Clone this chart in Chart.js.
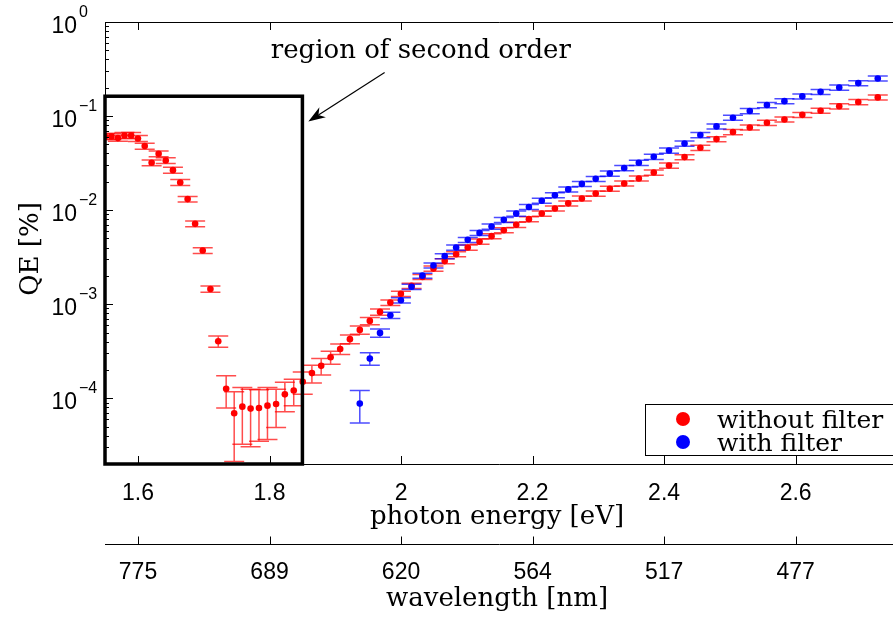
<!DOCTYPE html>
<html>
<head>
<meta charset="utf-8">
<title>QE vs photon energy</title>
<script src="https://cdn.jsdelivr.net/npm/chart.js@4.4.1/dist/chart.umd.min.js"></script>
<style>
  html, body { margin: 0; padding: 0; background: #fff; }
  #chart { display: block; }
</style>
</head>
<body>
<canvas id="chart" width="893" height="619"></canvas>
<script>
const HC = 1239.84; // eV * nm

// without filter (red)
const redWavelengths = [800, 795, 790, 785, 780, 775, 770, 765, 760, 755, 750, 745, 740, 735, 730,
  725, 720, 715, 710, 705, 700, 695, 690, 685, 680, 675, 670, 665, 660, 655, 650, 645, 640,
  635, 630, 625, 620, 615, 610, 605, 600, 595, 590, 585, 580, 575, 570, 565, 560, 555, 550,
  545, 540, 535, 530, 525, 520, 515, 510, 505, 500, 495, 490, 485, 480, 475, 470, 465, 460, 455];
const redQE = [0.0607, 0.0607, 0.0583, 0.0622, 0.0622, 0.0578, 0.048, 0.0319, 0.0397, 0.0337,
  0.0266, 0.0197, 0.0131, 0.00715, 0.00372, 0.00145, 4.04e-4, 1.26e-4, 6.92e-5, 8.14e-5,
  7.76e-5, 7.88e-5, 8.34e-5, 8.69e-5, 1.10e-4, 1.21e-4, 1.50e-4, 1.85e-4, 2.21e-4, 2.73e-4,
  3.34e-4, 4.25e-4, 5.33e-4, 6.64e-4, 8.28e-4, 1.04e-3, 1.29e-3, 1.57e-3, 1.95e-3, 2.39e-3,
  2.87e-3, 3.4e-3, 4.0e-3, 4.63e-3, 5.29e-3, 6.12e-3, 6.98e-3, 8.02e-3, 9.2e-3, 0.0104,
  0.0118, 0.0133, 0.0150, 0.0169, 0.0192, 0.0217, 0.0251, 0.0298, 0.0366, 0.046,
  0.0569, 0.0676, 0.0757, 0.0849, 0.092, 0.103, 0.114, 0.127, 0.141, 0.158];
const redErr = [0.0045, 0.0045, 0.0043, 0.0045, 0.0045, 0.0042, 0.0035, 0.0023, 0.0028, 0.0024,
  0.0019, 0.0014, 0.0009, 0.0005, 0.00027, 0.00011, 5.5e-5, 4.7e-5, 4.8e-5, 4.9e-5,
  4.7e-5, 4.4e-5, 4.7e-5, 3.8e-5, 3.8e-5, 3.8e-5, 4.0e-5, 4.0e-5, 4.4e-5, 4.3e-5,
  4.3e-5, 4.5e-5, 5.5e-5, 5.8e-5, 6.3e-5, 7e-5, 8.5e-5, 1e-4, 1.2e-4, 1.5e-4,
  1.8e-4, 2.1e-4, 2.5e-4, 2.9e-4, 3.3e-4, 3.8e-4, 4.3e-4, 5e-4, 5.7e-4, 6.4e-4,
  7.3e-4, 8.2e-4, 9.3e-4, 1.05e-3, 1.2e-3, 1.35e-3, 1.55e-3, 1.85e-3, 2.3e-3, 2.9e-3,
  3.5e-3, 4.2e-3, 4.7e-3, 5.3e-3, 5.7e-3, 6.4e-3, 7.1e-3, 7.9e-3, 8.7e-3, 9.8e-3];

// with filter (blue)
const blueWavelengths = [640, 635, 630, 625, 620, 615, 610, 605, 600, 595, 590, 585, 580, 575,
  570, 565, 560, 555, 550, 545, 540, 535, 530, 525, 520, 515, 510, 505, 500, 495, 490, 485,
  480, 475, 470, 465, 460, 455];
const blueQE = [8.77e-5, 2.64e-4, 4.95e-4, 7.64e-4, 1.10e-3, 1.53e-3, 2.01e-3, 2.58e-3, 3.24e-3,
  4.0e-3, 4.83e-3, 5.73e-3, 6.7e-3, 7.88e-3, 9.2e-3, 0.0108, 0.0126, 0.0144, 0.0166, 0.019,
  0.0215, 0.0245, 0.028, 0.0319, 0.0369, 0.043, 0.0511, 0.0628, 0.0776, 0.096, 0.113, 0.131,
  0.144, 0.162, 0.181, 0.201, 0.224, 0.251];
const blueErr = [3.3e-5, 4e-5, 4.9e-5, 5.8e-5, 7e-5, 9.5e-5, 1.25e-4, 1.6e-4, 2e-4,
  2.5e-4, 3e-4, 3.6e-4, 4.2e-4, 4.9e-4, 5.7e-4, 6.7e-4, 7.8e-4, 9e-4, 1.03e-3, 1.18e-3,
  1.33e-3, 1.52e-3, 1.74e-3, 2e-3, 2.3e-3, 2.7e-3, 3.2e-3, 3.9e-3, 4.8e-3, 6e-3, 7e-3, 8.1e-3,
  8.9e-3, 0.01, 0.011, 0.0125, 0.014, 0.0155];

const energyTicks = [1.6, 1.8, 2, 2.2, 2.4, 2.6];
const wavelengthLabels = ['775', '689', '620', '564', '517', '477'];
const decadeTicks = [1e-4, 1e-3, 1e-2, 1e-1, 1];
const decadeExponents = ['\u22124', '\u22123', '\u22122', '\u22121', '0'];

const E_MIN = HC / 800;
const E_MAX = 2.742;
const QE_MIN = 2e-5;
const QE_MAX = 1;

// "region of second order" frame and its note
const regionEMax = 1.85;
const regionQEMax = 0.1625;
const noteText = 'region of second order';
const notePos = { x: 2.03, y: 0.417 };
const arrowFrom = { x: 1.975, y: 0.291 };
const arrowTo = { x: 1.859, y: 0.0877 };

const SANS = "'Liberation Sans', Arial, sans-serif";
const SERIF = "'DejaVu Serif', serif";

const toPoints = (wl, qe, err) => wl.map((w, i) => ({ x: HC / w, y: qe[i], err: err[i] }));

const errorBars = {
  id: 'errorBars',
  beforeDatasetsDraw(chart) {
    const { ctx, chartArea } = chart;
    const xs = chart.scales.x, ys = chart.scales.y;
    ctx.save();
    ctx.beginPath();
    ctx.rect(chartArea.left, chartArea.top, chartArea.right - chartArea.left, chartArea.bottom - chartArea.top);
    ctx.clip();
    // red first, blue on top
    [...chart.data.datasets].sort((a, b) => b.order - a.order).forEach(ds => {
      ctx.strokeStyle = ds.errorColor;
      ctx.lineWidth = 1.5;
      ds.data.forEach(d => {
        const px = xs.getPixelForValue(d.x);
        const yHi = ys.getPixelForValue(d.y + d.err);
        const lo = d.y - d.err;
        const yLo = lo > 0 ? ys.getPixelForValue(lo) : chartArea.bottom + 20;
        ctx.beginPath();
        ctx.moveTo(px, yHi); ctx.lineTo(px, yLo);
        ctx.moveTo(px - 10, yHi); ctx.lineTo(px + 10, yHi);
        ctx.moveTo(px - 10, yLo); ctx.lineTo(px + 10, yLo);
        ctx.stroke();
      });
    });
    ctx.restore();
  }
};

const frame = {
  id: 'frame',
  afterDraw(chart) {
    const { ctx, chartArea } = chart;
    const xs = chart.scales.x, ys = chart.scales.y, x2 = chart.scales.x2;
    const { left, right, top, bottom } = chartArea;
    ctx.save();
    ctx.strokeStyle = '#000';
    ctx.fillStyle = '#000';
    ctx.lineWidth = 1;

    // axes box (left, top, bottom)
    ctx.beginPath();
    ctx.moveTo(right + 5, top + 0.5); ctx.lineTo(left + 0.5, top + 0.5);
    ctx.lineTo(left + 0.5, bottom + 0.5); ctx.lineTo(right + 5, bottom + 0.5);
    ctx.stroke();

    // x ticks, inward at bottom and top
    ctx.beginPath();
    energyTicks.forEach(v => {
      const px = Math.round(xs.getPixelForValue(v)) + 0.5;
      ctx.moveTo(px, bottom); ctx.lineTo(px, bottom - 8);
      ctx.moveTo(px, top); ctx.lineTo(px, top + 8);
    });
    // y ticks (major + minor), inward
    for (let d = -5; d <= 0; d++) {
      for (let m = 1; m <= 9; m++) {
        const v = m * Math.pow(10, d);
        if (v < QE_MIN || v > QE_MAX) continue;
        const py = Math.round(ys.getPixelForValue(v)) + 0.5;
        ctx.moveTo(left, py); ctx.lineTo(left + (m === 1 ? 8 : 4), py);
      }
    }
    ctx.stroke();

    // y tick labels 10^n
    decadeTicks.forEach((v, i) => {
      const py = ys.getPixelForValue(v);
      ctx.font = '23px ' + SANS;
      ctx.textAlign = 'right';
      ctx.textBaseline = 'alphabetic';
      ctx.fillText('10', left - 28, py + 11);
      ctx.font = '16px ' + SANS;
      ctx.textAlign = 'left';
      ctx.fillText(decadeExponents[i], left - 26, py - 5);
    });

    // y axis title
    ctx.save();
    ctx.translate(left - 74, (top + bottom) / 2 + 6);
    ctx.rotate(-Math.PI / 2);
    ctx.font = '26px ' + SERIF;
    ctx.textAlign = 'center';
    ctx.textBaseline = 'middle';
    ctx.fillText('QE [%]', 0, 0);
    ctx.restore();

    // wavelength axis line with upward ticks
    const ay = Math.round(x2.top) + 0.5;
    ctx.beginPath();
    ctx.moveTo(left, ay); ctx.lineTo(right + 5, ay);
    energyTicks.forEach(v => {
      const px = Math.round(x2.getPixelForValue(v)) + 0.5;
      ctx.moveTo(px, ay); ctx.lineTo(px, ay - 8);
    });
    ctx.stroke();

    // region of second order frame
    const bx0 = xs.getPixelForValue(E_MIN), bx1 = xs.getPixelForValue(regionEMax);
    const by0 = ys.getPixelForValue(regionQEMax), by1 = ys.getPixelForValue(QE_MIN);
    ctx.lineWidth = 3.5;
    ctx.strokeRect(bx0, by0, bx1 - bx0, by1 - by0);

    // note + arrow
    ctx.font = '26px ' + SERIF;
    ctx.textAlign = 'center';
    ctx.fillText(noteText, xs.getPixelForValue(notePos.x), ys.getPixelForValue(notePos.y));
    const ax0 = xs.getPixelForValue(arrowFrom.x), ay0 = ys.getPixelForValue(arrowFrom.y);
    const ax1 = xs.getPixelForValue(arrowTo.x), ay1 = ys.getPixelForValue(arrowTo.y);
    const ang = Math.atan2(ay1 - ay0, ax1 - ax0);
    ctx.lineWidth = 1.2;
    ctx.beginPath();
    ctx.moveTo(ax0, ay0);
    ctx.lineTo(ax1 - 12 * Math.cos(ang), ay1 - 12 * Math.sin(ang));
    ctx.stroke();
    ctx.beginPath();
    ctx.moveTo(ax1, ay1);
    ctx.lineTo(ax1 - 17 * Math.cos(ang) + 6 * Math.sin(ang), ay1 - 17 * Math.sin(ang) - 6 * Math.cos(ang));
    ctx.lineTo(ax1 - 12 * Math.cos(ang), ay1 - 12 * Math.sin(ang));
    ctx.lineTo(ax1 - 17 * Math.cos(ang) - 6 * Math.sin(ang), ay1 - 17 * Math.sin(ang) + 6 * Math.cos(ang));
    ctx.closePath();
    ctx.fill();

    // legend
    const lx = left + 540, ly = bottom - 60;
    ctx.fillStyle = '#fff';
    ctx.fillRect(lx, ly, right - lx + 10, 51);
    ctx.lineWidth = 1;
    ctx.strokeStyle = '#000';
    ctx.strokeRect(lx + 0.5, ly + 0.5, right - lx + 10, 51);
    const items = [['without filter', '#ff0000'], ['with filter', '#0000ff']];
    items.forEach(([label, color], i) => {
      const cy = ly + 15 + i * 23;
      ctx.fillStyle = color;
      ctx.beginPath();
      ctx.arc(lx + 38, cy, 7, 0, Math.PI * 2);
      ctx.fill();
      ctx.fillStyle = '#000';
      ctx.font = '25px ' + SERIF;
      ctx.textAlign = 'left';
      ctx.fillText(label, lx + 72, cy + 9);
    });
    ctx.restore();
  }
};

const setTicks = (scale) => { scale.ticks = energyTicks.map(v => ({ value: v })); };

new Chart(document.getElementById('chart'), {
  type: 'scatter',
  data: {
    datasets: [
      {
        label: 'without filter',
        data: toPoints(redWavelengths, redQE, redErr),
        backgroundColor: '#ff0000',
        errorColor: 'rgba(255,0,0,0.7)',
        pointRadius: 3.3,
        pointBorderWidth: 0,
        order: 1
      },
      {
        label: 'with filter',
        data: toPoints(blueWavelengths, blueQE, blueErr),
        backgroundColor: '#0000ff',
        errorColor: 'rgba(0,0,255,0.7)',
        pointRadius: 3.3,
        pointBorderWidth: 0,
        order: 0
      }
    ]
  },
  options: {
    responsive: false,
    animation: false,
    layout: { padding: { top: 22, right: 0, left: 0, bottom: 0 } },
    plugins: { legend: { display: false }, tooltip: { enabled: false } },
    scales: {
      x: {
        type: 'linear',
        position: 'bottom',
        weight: 0,
        min: E_MIN,
        max: E_MAX,
        grid: { display: false },
        border: { display: false },
        afterBuildTicks: setTicks,
        afterFit: (s) => { s.height = 80; },
        ticks: {
          color: '#000',
          padding: 8,
          maxRotation: 0,
          autoSkip: false,
          font: { family: SANS, size: 23 },
          callback: (v) => String(v)
        },
        title: {
          display: true,
          text: 'photon energy [eV]',
          color: '#000',
          font: { family: SERIF, size: 26 },
          padding: { top: 0, bottom: 11 }
        }
      },
      x2: {
        type: 'linear',
        position: 'bottom',
        weight: 1,
        min: E_MIN,
        max: E_MAX,
        grid: { display: false },
        border: { display: false },
        afterBuildTicks: setTicks,
        afterFit: (s) => { s.height = 75; },
        ticks: {
          color: '#000',
          padding: 7,
          maxRotation: 0,
          autoSkip: false,
          font: { family: SANS, size: 23 },
          callback: (v, i) => wavelengthLabels[i]
        },
        title: {
          display: true,
          text: 'wavelength [nm]',
          color: '#000',
          font: { family: SERIF, size: 26 },
          padding: { top: 0, bottom: 4 }
        }
      },
      y: {
        type: 'logarithmic',
        position: 'left',
        min: QE_MIN,
        max: QE_MAX,
        grid: { display: false },
        border: { display: false },
        ticks: { display: false },
        afterFit: (s) => { s.width = 105; }
      }
    }
  },
  plugins: [errorBars, frame]
});
</script>
</body>
</html>
